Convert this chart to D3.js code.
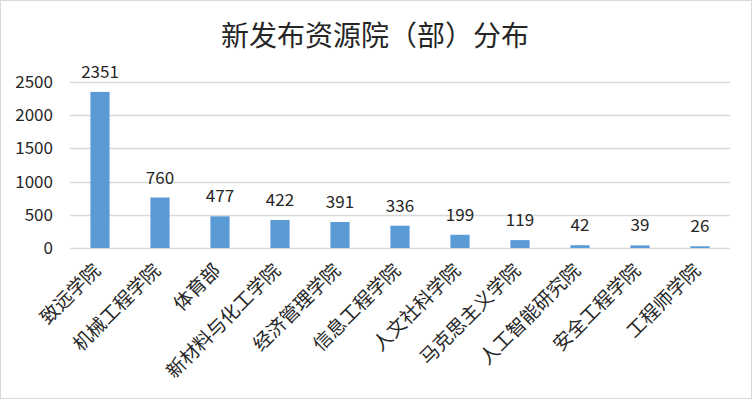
<!DOCTYPE html>
<html>
<head>
<meta charset="utf-8">
<script src="https://cdn.jsdelivr.net/npm/d3@7/dist/d3.min.js"></script>
<style>
  html, body { margin: 0; padding: 0; background: #fff; }
  text { font-family: "Noto Sans CJK SC", "Noto Sans", sans-serif; fill: #262626; }
</style>
</head>
<body>
<svg id="chart" width="752" height="399"></svg>
<script>
var categories = ['致远学院', '机械工程学院', '体育部', '新材料与化工学院', '经济管理学院',
    '信息工程学院', '人文社科学院', '马克思主义学院', '人工智能研究院', '安全工程学院', '工程师学院'];
var values = [2351, 760, 477, 422, 391, 336, 199, 119, 42, 39, 26];
var yTicks = [0, 500, 1000, 1500, 2000, 2500];
var title = '新发布资源院（部）分布';

var W = 752, H = 399,
    margin = {left: 70, right: 22, top: 82, bottom: 151};

var svg = d3.select('#chart');

// chart area border
svg.append('rect')
    .attr('x', 0.5).attr('y', 0.5)
    .attr('width', W - 1).attr('height', H - 1)
    .attr('fill', '#fff')
    .attr('stroke', '#d9d9d9');

var x = d3.scaleBand()
    .domain(categories)
    .range([margin.left, W - margin.right])
    .paddingInner(0.68)
    .paddingOuter(0.34);

var y = d3.scaleLinear()
    .domain([0, 2500])
    .range([H - margin.bottom, margin.top]);

// gridlines
svg.append('g')
    .selectAll('line')
        .data(yTicks)
    .enter().append('line')
    .attr('x1', margin.left)
    .attr('x2', W - margin.right)
    .attr('y1', function(d) { return Math.round(y(d)) + 0.5; })
    .attr('y2', function(d) { return Math.round(y(d)) + 0.5; })
    .attr('stroke', '#d9d9d9')
    .attr('stroke-width', 1.3);

// y axis labels
var yAxis = d3.axisLeft(y)
    .tickValues(yTicks)
    .tickFormat(d3.format('d'))
    .tickSize(0)
    .tickPadding(0);
var gy = svg.append('g')
    .attr('transform', 'translate(' + (margin.left - 17) + ',0)')
    .call(yAxis);
gy.select('.domain').remove();
gy.selectAll('text')
    .style('font-size', '17px')
    .attr('fill', '#262626');

// bars
svg.append('g')
    .selectAll('rect')
        .data(values)
    .enter().append('rect')
    .attr('x', function(d, i) { return x(categories[i]); })
    .attr('width', x.bandwidth())
    .attr('y', function(d) { return y(d); })
    .attr('height', function(d) { return y(0) - y(d); })
    .attr('fill', '#5b9bd5');

// data labels
svg.append('g')
    .selectAll('text')
        .data(values)
    .enter().append('text')
    .attr('x', function(d, i) { return x(categories[i]) + x.bandwidth() / 2; })
    .attr('y', function(d) { return y(d) - 14; })
    .attr('text-anchor', 'middle')
    .style('font-size', '17px')
    .text(function(d) { return d; });

// category labels, rotated
svg.append('g')
    .selectAll('text')
        .data(categories)
    .enter().append('text')
    .attr('transform', function(d) {
        var cx = x(d) + x.bandwidth() / 2 - 3,
            cy = y(0) + 19;
        return 'translate(' + [cx, cy] + ') rotate(-45)';
    })
    .attr('text-anchor', 'end')
    .attr('dy', '0.35em')
    .style('font-size', '19px')
    .text(function(d) { return d; });

// title
svg.append('text')
    .attr('x', 375)
    .attr('y', 46)
    .attr('text-anchor', 'middle')
    .style('font-size', '28px')
    .text(title);
</script>
</body>
</html>
